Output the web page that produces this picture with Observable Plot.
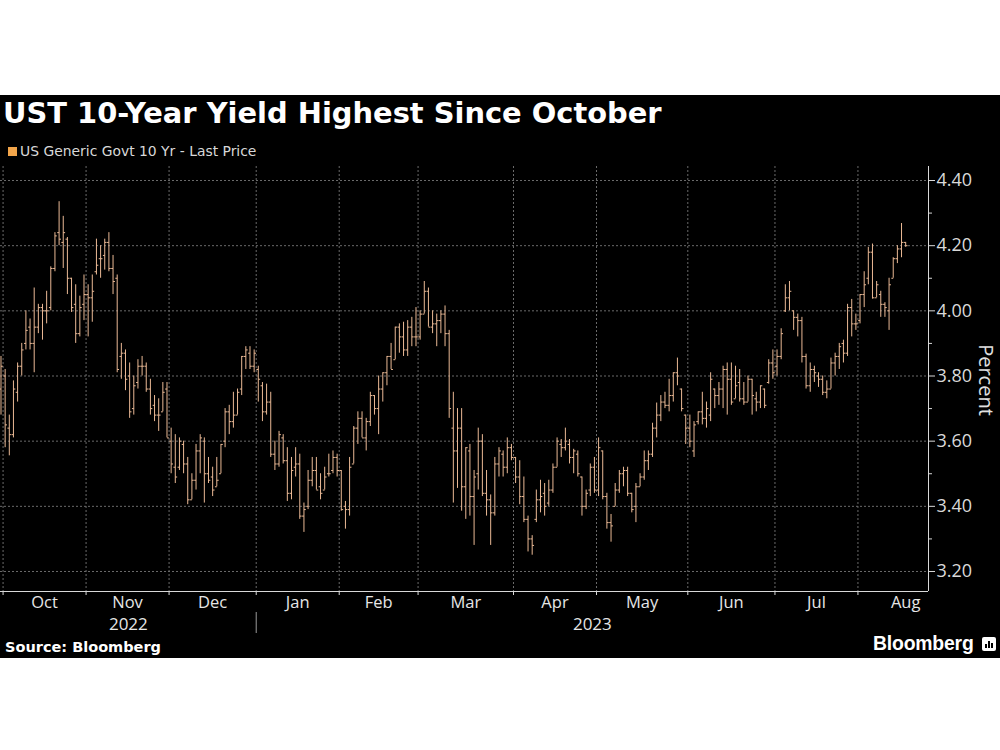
<!DOCTYPE html>
<html>
<head>
<meta charset="utf-8">
<script src="https://cdn.jsdelivr.net/npm/d3@7"></script>
<script src="https://cdn.jsdelivr.net/npm/@observablehq/plot@0.6"></script>
<style>
  html, body { margin: 0; padding: 0; background: #fff; }
  body { width: 1000px; height: 750px; position: relative; overflow: hidden; }
  #panel { position: absolute; left: 0; top: 95px; width: 1000px; height: 563px; background: #000; }
  .t { position: absolute; white-space: nowrap; color: #fff; }
  #title { left: 3px; top: 98.7px; font: bold 28.9px/28.9px "DejaVu Sans", sans-serif; }
  #legend { left: 8px; top: 144.5px; font: 13.9px/13.9px "DejaVu Sans", sans-serif; color: #d8d8d8; }
  #legend .sw { display: inline-block; width: 9px; height: 9px; background: #f2a54a; margin-right: 3px; vertical-align: 0px; }
  #source { left: 5px; top: 639.5px; font: bold 14.5px/14.5px "DejaVu Sans", sans-serif; }
  #brand { left: 873px; top: 632.6px; font: bold 19.4px/20px "Liberation Sans", sans-serif; letter-spacing: -0.2px; }
  #percent { left: 986px; top: 380px; font: 20px/20px "Open Sans", sans-serif; color: #e0e0e0; transform: translate(-50%, -50%) rotate(90deg); }
  #icon { position: absolute; left: 982px; top: 637px; width: 14px; height: 14px; background: #fff; border-radius: 2px; }
  #icon i { position: absolute; bottom: 3px; width: 2px; background: #000; }
  #chart { position: absolute; left: 0; top: 160px; }
</style>
</head>
<body>
<div id="panel"></div>
<div class="t" id="title">UST 10-Year Yield Highest Since October</div>
<div class="t" id="legend"><span class="sw"></span>US Generic Govt 10 Yr - Last Price</div>
<div id="chart"></div>
<div class="t" id="percent">Percent</div>
<div class="t" id="source">Source: Bloomberg</div>
<div class="t" id="brand">Bloomberg</div>
<div id="icon"><i style="left:3px;height:4px"></i><i style="left:6px;height:7px"></i><i style="left:9px;height:5px"></i></div>
<script>
// ---- Data (US Generic Govt 10 Yr, daily OHLC, %), one value per trading day from 2022-09-30 ----
const holidays = ["2022-10-10","2022-11-11","2022-11-24","2022-12-26","2023-01-02","2023-01-16","2023-02-20","2023-05-29","2023-06-19","2023-07-04"];
const firstDay = "2022-09-30";
const lastCalendarDay = "2023-08-31";

const open = [3.76,3.80,3.64,3.62,3.75,3.83,3.90,3.95,3.90,3.95,4.01,4.00,4.01,4.13,4.24,4.21,4.22,4.10,4.02,3.93,4.02,
4.05,4.04,4.12,4.16,4.17,4.21,4.13,4.10,3.86,3.87,3.80,3.70,3.78,3.83,3.83,3.76,3.71,3.68,3.69,3.76,
3.60,3.52,3.52,3.59,3.53,3.42,3.48,3.57,3.60,3.50,3.49,3.46,3.50,3.60,3.69,3.66,3.68,3.76,3.86,3.87,3.83,
3.82,3.77,3.69,3.72,3.56,3.53,3.61,3.54,3.44,3.52,3.53,3.37,3.40,3.48,3.51,3.46,3.45,3.50,3.51,3.55,
3.51,3.40,3.39,3.53,3.64,3.67,3.61,3.66,3.74,3.70,3.76,3.81,3.86,3.85,3.95,3.92,3.88,3.95,3.92,
3.92,3.99,4.06,3.95,3.96,3.97,3.99,3.93,3.64,3.57,3.64,3.46,3.57,3.43,3.50,3.60,3.44,3.42,3.38,3.53,3.56,3.52,3.58,
3.55,3.49,3.43,3.36,3.30,3.36,3.42,3.44,3.41,3.45,3.52,3.59,3.58,3.59,3.55,3.56,3.49,3.40,3.45,3.52,
3.45,3.57,3.43,3.35,3.40,3.45,3.50,3.51,3.44,3.40,3.46,3.49,3.54,3.56,3.64,3.68,3.72,3.71,3.74,3.81,3.76,3.68,
3.64,3.57,3.66,3.69,3.67,3.68,3.76,3.74,3.76,3.82,3.79,3.73,3.78,3.73,3.72,3.79,3.73,3.72,3.76,3.78,3.84,
3.83,3.86,4.00,4.04,4.00,3.98,3.97,3.86,3.77,3.82,3.80,3.79,3.75,3.76,3.84,3.86,3.90,3.87,4.01,3.96,
3.97,4.05,4.10,4.18,4.04,4.05,4.02,4.00,4.10,4.16,4.19,4.21];

const high = [3.86,3.82,3.68,3.785,3.84,3.90,4.00,3.975,4.07,4.02,4.02,4.06,4.135,4.24,4.335,4.29,4.225,4.10,4.08,4.045,4.11,
4.08,4.11,4.22,4.20,4.22,4.24,4.17,4.11,3.90,3.88,3.84,3.80,3.85,3.86,3.84,3.79,3.74,3.73,3.78,3.78,
3.64,3.62,3.61,3.60,3.55,3.50,3.59,3.62,3.61,3.55,3.52,3.55,3.59,3.70,3.71,3.75,3.76,3.86,3.89,3.89,3.88,
3.83,3.78,3.775,3.75,3.60,3.63,3.62,3.58,3.55,3.58,3.56,3.41,3.51,3.55,3.55,3.50,3.52,3.56,3.57,3.56,
3.51,3.415,3.55,3.645,3.69,3.69,3.67,3.75,3.74,3.80,3.81,3.86,3.90,3.95,3.96,3.965,3.97,3.98,4.01,
4.00,4.09,4.07,4.00,3.99,4.00,4.015,3.94,3.75,3.70,3.70,3.58,3.59,3.51,3.64,3.62,3.51,3.435,3.55,3.58,3.57,3.61,3.59,
3.55,3.54,3.49,3.37,3.31,3.45,3.48,3.47,3.48,3.53,3.61,3.605,3.64,3.605,3.575,3.57,3.49,3.45,3.53,3.55,
3.61,3.57,3.44,3.375,3.47,3.51,3.52,3.52,3.44,3.47,3.50,3.57,3.57,3.655,3.717,3.74,3.75,3.79,3.81,3.855,3.76,3.68,
3.68,3.66,3.69,3.75,3.72,3.81,3.76,3.78,3.83,3.84,3.84,3.83,3.82,3.78,3.80,3.79,3.75,3.77,3.76,3.85,3.88,
3.88,3.945,4.08,4.09,4.00,3.99,3.98,3.867,3.84,3.83,3.81,3.80,3.785,3.855,3.87,3.90,3.91,4.02,4.035,3.99,
4.05,4.12,4.195,4.205,4.09,4.06,4.025,4.10,4.163,4.20,4.268,4.21];

const low = [3.68,3.58,3.555,3.61,3.72,3.80,3.88,3.88,3.81,3.93,3.91,3.96,4.00,4.12,4.20,4.13,4.05,3.995,3.90,3.92,3.97,
3.92,3.965,4.11,4.10,4.125,4.12,4.05,3.81,3.79,3.755,3.67,3.68,3.76,3.80,3.75,3.68,3.66,3.63,3.69,3.61,
3.50,3.47,3.51,3.50,3.405,3.42,3.45,3.50,3.41,3.47,3.43,3.46,3.50,3.58,3.62,3.64,3.68,3.74,3.82,3.82,3.81,
3.72,3.66,3.68,3.55,3.51,3.52,3.53,3.415,3.42,3.49,3.36,3.32,3.39,3.46,3.45,3.42,3.45,3.49,3.50,3.49,
3.385,3.33,3.37,3.53,3.59,3.61,3.57,3.645,3.68,3.62,3.72,3.77,3.82,3.85,3.87,3.86,3.86,3.89,3.89,
3.91,3.99,3.95,3.93,3.89,3.93,3.89,3.67,3.41,3.455,3.385,3.36,3.37,3.28,3.45,3.43,3.37,3.28,3.37,3.49,3.49,3.50,3.54,
3.47,3.405,3.35,3.26,3.25,3.35,3.38,3.37,3.40,3.44,3.52,3.55,3.57,3.53,3.50,3.49,3.37,3.39,3.43,3.44,
3.43,3.42,3.33,3.29,3.40,3.44,3.46,3.43,3.38,3.35,3.46,3.48,3.51,3.55,3.61,3.66,3.70,3.69,3.72,3.77,3.69,3.59,
3.58,3.55,3.65,3.65,3.64,3.66,3.70,3.71,3.70,3.68,3.71,3.73,3.72,3.71,3.72,3.68,3.69,3.70,3.70,3.775,3.79,
3.80,3.85,3.995,4.00,3.94,3.92,3.84,3.76,3.75,3.78,3.765,3.74,3.73,3.76,3.80,3.82,3.84,3.86,3.92,3.94,
3.96,4.01,4.08,4.036,4.04,3.98,3.98,3.94,4.10,4.145,4.163,4.195];

const close = [3.83,3.65,3.62,3.76,3.83,3.88,3.94,3.90,3.95,4.01,4.00,4.00,4.13,4.23,4.22,4.24,4.10,4.01,3.93,4.01,4.05,
4.04,4.06,4.14,4.16,4.21,4.13,4.09,3.82,3.87,3.79,3.69,3.77,3.83,3.83,3.76,3.70,3.68,3.68,3.75,3.61,
3.53,3.49,3.60,3.53,3.42,3.48,3.57,3.61,3.50,3.48,3.45,3.48,3.59,3.69,3.66,3.68,3.75,3.86,3.88,3.83,3.87,
3.79,3.69,3.72,3.56,3.53,3.62,3.54,3.44,3.51,3.53,3.37,3.39,3.48,3.51,3.45,3.44,3.49,3.50,3.55,3.51,
3.39,3.39,3.52,3.64,3.67,3.61,3.66,3.74,3.70,3.76,3.81,3.86,3.82,3.95,3.92,3.88,3.95,3.92,3.92,
3.99,4.06,3.95,3.96,3.97,3.99,3.93,3.70,3.57,3.64,3.46,3.58,3.43,3.49,3.60,3.44,3.42,3.38,3.53,3.57,3.52,3.58,3.55,
3.49,3.43,3.36,3.30,3.28,3.42,3.43,3.40,3.45,3.52,3.60,3.58,3.60,3.55,3.57,3.50,3.40,3.44,3.52,3.45,
3.58,3.43,3.35,3.34,3.45,3.50,3.51,3.44,3.39,3.46,3.49,3.54,3.56,3.64,3.68,3.72,3.71,3.74,3.81,3.80,3.70,3.64,
3.60,3.65,3.69,3.67,3.70,3.79,3.74,3.76,3.82,3.79,3.72,3.77,3.73,3.72,3.79,3.74,3.72,3.77,3.71,3.84,3.81,
3.86,3.93,4.04,4.06,3.98,3.97,3.86,3.77,3.82,3.81,3.79,3.75,3.76,3.84,3.86,3.89,3.87,4.01,3.96,3.96,
4.05,4.08,4.18,4.04,4.08,4.02,4.01,4.08,4.16,4.19,4.21,4.20];

const monthLabels = ["Oct","Nov","Dec","Jan","Feb","Mar","Apr","May","Jun","Jul","Aug"];
const yearLabels = ["2022","2023"];
const yMajorTicks = [3.20,3.40,3.60,3.80,4.00,4.20,4.40];
const yMinorTicks = [3.30,3.50,3.70,3.90,4.10,4.30];

// ---- Trading-day calendar ----
function tradingDays(from, to) {
  const out = [];
  let d = new Date(from + "T00:00:00Z");
  const end = new Date(to + "T00:00:00Z");
  while (d <= end) {
    const wd = d.getUTCDay();
    const s = d.toISOString().slice(0, 10);
    if (wd > 0 && wd < 6 && !holidays.includes(s)) out.push(s);
    d = new Date(d.getTime() + 86400000);
  }
  return out;
}
const calendar = tradingDays(firstDay, lastCalendarDay);
const rows = open.map((o, i) => ({i, date: calendar[i], open: o, high: high[i], low: low[i], close: close[i]}));

// month boundaries (first trading day of each month, minus half a day)
const monthStart = [];
calendar.forEach((s, i) => { if (i > 0 && s.slice(0, 7) !== calendar[i - 1].slice(0, 7)) monthStart.push(i - 0.5); });
const bounds = monthStart.concat([calendar.length - 0.5]);
const months = monthLabels.map((m, k) => ({label: m, x: (bounds[k] + bounds[k + 1]) / 2}));

const xDomain = [-0.12, 223.5];
const yDomain = [3.1386, 4.443];
const yearSplit = monthStart[monthLabels.indexOf("Jan")];
const years = [
  {label: yearLabels[0], x: (xDomain[0] + yearSplit) / 2},
  {label: yearLabels[1], x: (yearSplit + xDomain[1]) / 2}
];

const barColor = "#eab995";
const gridColor = "#6a6a6a";
const axisColor = "#d9d9d9";
const below = v => yDomain[0] - v / 325.8; // px below the axis, in data units
const right = v => xDomain[1] + v / 4.152;  // px right of the axis, in data units

const chart = Plot.plot({
  width: 1000,
  height: 480,
  marginLeft: 0,
  marginRight: 72,
  marginTop: 6,
  marginBottom: 49,
  style: {background: "transparent", color: axisColor, fontFamily: "'Open Sans', sans-serif", fontSize: "18px", overflow: "visible"},
  x: {domain: xDomain, axis: null},
  y: {domain: yDomain, axis: "right", ticks: yMajorTicks, tickFormat: d => d.toFixed(2), tickSize: 6, tickPadding: 2, label: null},
  marks: [
    Plot.ruleY(yMajorTicks, {stroke: gridColor, strokeDasharray: "2,2"}),
    Plot.ruleX(monthStart, {stroke: gridColor, strokeDasharray: "2,2"}),
    Plot.ruleX(rows, {x: "i", y1: "low", y2: "high", stroke: barColor, strokeWidth: 1}),
    Plot.link(rows, {x1: d => d.i - 0.45, x2: "i", y1: "open", y2: "open", stroke: barColor, strokeWidth: 1}),
    Plot.link(rows, {x1: "i", x2: d => d.i + 0.45, y1: "close", y2: "close", stroke: barColor, strokeWidth: 1}),
    Plot.ruleY([yDomain[0]], {stroke: axisColor, strokeWidth: 1}),
    Plot.ruleX([xDomain[1]], {stroke: axisColor, strokeWidth: 1}),
    Plot.ruleX(monthStart, {y1: yDomain[0], y2: below(4), stroke: axisColor}),
    Plot.link(yMinorTicks, {x1: xDomain[1], x2: right(3.5), y1: d => d, y2: d => d, stroke: axisColor}),
    Plot.text(months, {x: "x", y: yDomain[0], text: "label", dy: 11.5, fill: "#e6e6e6", fontSize: 16.5, lineAnchor: "middle"}),
    Plot.text(years, {x: "x", y: yDomain[0], text: "label", dy: 33.5, fill: "#e6e6e6", fontSize: 17, lineAnchor: "middle"}),
    Plot.ruleX([yearSplit], {y1: below(21), y2: below(42), stroke: "#9a9a9a"})
  ]
});
document.getElementById("chart").appendChild(chart);
</script>
</body>
</html>
